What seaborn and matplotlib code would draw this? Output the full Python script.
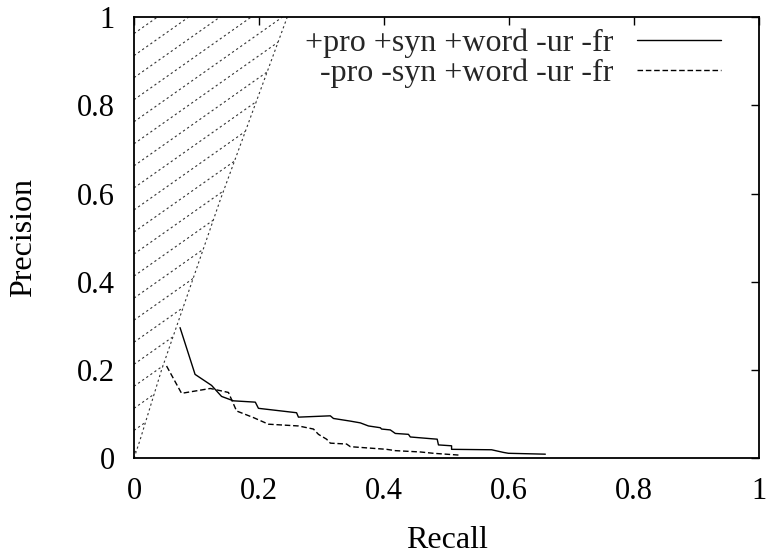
import numpy as np
import pandas as pd
import matplotlib
matplotlib.use("Agg")
import matplotlib.pyplot as plt
import seaborn as sns
from matplotlib.patches import Polygon

# ---- data ----
recall_a = [0.0736, 0.0976, 0.124, 0.140, 0.159, 0.194, 0.199, 0.260, 0.263, 0.314,
            0.319, 0.346, 0.362, 0.375, 0.394, 0.396, 0.410, 0.418, 0.439, 0.442,
            0.476, 0.485, 0.487, 0.508, 0.508, 0.572, 0.591, 0.599, 0.658]
precision_a = [0.296, 0.190, 0.165, 0.140, 0.130, 0.127, 0.113, 0.103, 0.093, 0.096,
               0.090, 0.084, 0.080, 0.073, 0.069, 0.066, 0.064, 0.056, 0.054, 0.048,
               0.044, 0.043, 0.030, 0.028, 0.020, 0.019, 0.013, 0.011, 0.009]
recall_b = [0.052, 0.076, 0.122, 0.151, 0.164, 0.191, 0.215, 0.263, 0.287, 0.295,
            0.308, 0.314, 0.340, 0.346, 0.404, 0.418, 0.458, 0.479, 0.519]
precision_b = [0.209, 0.147, 0.158, 0.149, 0.107, 0.092, 0.077, 0.073, 0.066, 0.054,
               0.043, 0.034, 0.032, 0.026, 0.020, 0.017, 0.014, 0.011, 0.007]
label_a = "+pro +syn +word -ur -fr"
label_b = "-pro -syn +word -ur -fr"

# boundary of hatched region
bound_recall = [0.0, 0.010, 0.044, 0.138, 0.245]
bound_precision = [0.0, 0.043, 0.200, 0.586, 1.0]

ticks = [0, 0.2, 0.4, 0.6, 0.8, 1]
tick_labels = ["0", "0.2", "0.4", "0.6", "0.8", "1"]

sns.set_theme(style="white")
plt.rcParams['font.family'] = ['Liberation Serif', 'DejaVu Serif']

fig = plt.figure(figsize=(7.66, 5.56), dpi=100)
ax = fig.add_axes([0.175, 0.176, 0.816, 0.793])

# hatched region
poly_xy = list(zip(bound_recall, bound_precision)) + [(0.0, 1.0)]
poly = Polygon(poly_xy, closed=True, facecolor='none', edgecolor='none')
ax.add_patch(poly)
for c in np.arange(-0.35, 1.0, 0.05) + 0.013:
    xs = np.array([0.0, 1.0])
    ln, = ax.plot(xs, xs + c, color='#333333', lw=0.8, dashes=(2, 2.5))
    ln.set_clip_path(poly)
ax.plot(bound_recall, bound_precision, color='#333333', lw=0.8, dashes=(2, 2.5))

df_a = pd.DataFrame({"Recall": recall_a, "Precision": precision_a})
df_b = pd.DataFrame({"Recall": recall_b, "Precision": precision_b})
sns.lineplot(data=df_a, x="Recall", y="Precision", sort=False, estimator=None,
             color='black', lw=1.0, ax=ax, label=label_a)
sns.lineplot(data=df_b, x="Recall", y="Precision", sort=False, estimator=None,
             color='black', lw=1.0, ax=ax, label=label_b, dashes=False)
ax.lines[-1].set_dashes((4, 2))

ax.set_xlim(0, 1)
ax.set_ylim(0, 1)
ax.set_xticks(ticks)
ax.set_xticklabels(tick_labels)
ax.set_yticks(ticks)
ax.set_yticklabels(tick_labels)
ax.tick_params(direction='in', length=6, width=1, top=True, right=True,
               labelsize=22, colors='black')
ax.tick_params(axis='x', pad=13.5)
ax.tick_params(axis='y', pad=14)
for s in ax.spines.values():
    s.set_color('black')
    s.set_linewidth(1.3)
ax.set_xlabel("Recall", fontsize=23, color='black')
ax.xaxis.label.set_va('baseline')
ax.xaxis.set_label_coords(0.5, -(548 - 458) / 441)
ax.set_ylabel("Precision", fontsize=23, labelpad=27.5, color='black')

leg = ax.legend(loc='upper right', bbox_to_anchor=(0.939, 0.974), frameon=False,
                markerfirst=False, fontsize=23, handlelength=2.63,
                handletextpad=0.75, labelspacing=0.02, borderaxespad=0.0,
                borderpad=0.0)

fig.savefig("out.png", dpi=100)
